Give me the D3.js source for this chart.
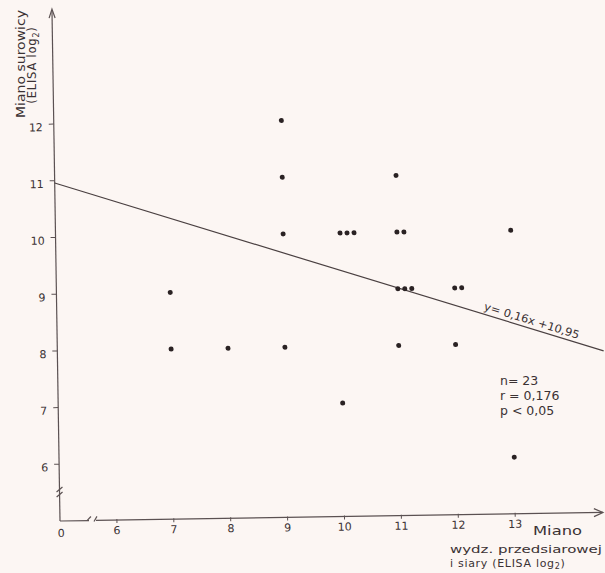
<!DOCTYPE html>
<html>
<head>
<meta charset="utf-8">
<script src="https://cdn.jsdelivr.net/npm/d3@7"></script>
<style>
  html, body { margin: 0; padding: 0; background: #fcf6f3; }
  svg { display: block; font-family: "DejaVu Sans", "Liberation Sans", sans-serif; }
</style>
</head>
<body>
<div id="chart"></div>
<script>
(function(){
  // wartosci
  const xTicks = [6, 7, 8, 9, 10, 11, 12, 13];
  const yTicks = [6, 7, 8, 9, 10, 11, 12];
  const pointX = [7, 7, 8, 9, 9, 9, 9, 10, 10, 11, 11, 11, 11, 12, 12, 13, 13];
  const pointY = [9, 8, 8, 12, 11, 10, 8, 10, 7, 11, 10, 9, 8, 9, 8, 10, 6];
  const pointN = [1, 1, 1, 1, 1, 1, 1, 3, 1, 1, 2, 3, 1, 2, 1, 1, 1];
  const fitX = [5, 14.6];
  const fitY = [10.96, 7.85];
  const fitLabel = "y= 0,16x +10,95";
  const statLines = ["n= 23", "r = 0,176", "p < 0,05"];

  const width = 605, height = 573;
  const ink = "#3b3233";

  const svg = d3.select("#chart").append("svg")
      .attr("width", width)
      .attr("height", height);

  svg.append("rect").attr("width", width).attr("height", height).attr("fill", "#fcf6f3");

  const x = d3.scaleLinear().domain([5, 13]).range([60, 515.2]);
  const y = d3.scaleLinear().domain([5, 12]).range([521, 124]);
  const ox = x(5), oy = y(5);

  // caly rysunek jest lekko obrocony (rysowany recznie)
  const g = svg.append("g").attr("transform", `rotate(-0.9, ${ox}, ${oy})`);

  const axisStyle = sel => sel.attr("stroke", "#5b5152").attr("stroke-width", 1.2).attr("fill", "none");

  // os Y ze strzalka
  g.append("line").attr("x1", ox).attr("y1", oy).attr("x2", ox).attr("y2", 10).call(axisStyle);
  g.append("path").attr("d", `M${ox - 3},${18} L${ox},${9} L${ox + 3},${18}`).call(axisStyle);
  // przerwanie osi Y
  g.append("path").attr("d", `M${ox - 3},${492} L${ox + 3},${487} M${ox - 3},${497} L${ox + 3},${492}`).call(axisStyle);

  // os X z przerwaniem
  g.append("line").attr("x1", ox).attr("y1", oy).attr("x2", 89).attr("y2", oy).call(axisStyle);
  g.append("path").attr("d", `M${87},${oy} L${91},${oy - 4}`).call(axisStyle);
  g.append("path").attr("d", `M${94},${oy + 1} L${97},${oy - 4}`).call(axisStyle);
  g.append("line").attr("x1", 96).attr("y1", oy).attr("x2", 603).attr("y2", oy).call(axisStyle);
  g.append("path").attr("d", `M${594},${oy - 4} L${603},${oy} L${594},${oy + 4}`).call(axisStyle);

  // podzialki
  g.selectAll(".ytick").data(yTicks).enter().append("line")
      .attr("x1", ox - 5).attr("x2", ox)
      .attr("y1", d => y(d)).attr("y2", d => y(d))
      .call(axisStyle).attr("stroke-width", 1);
  g.selectAll(".ylab").data(yTicks).enter().append("text")
      .attr("x", ox - 11).attr("y", d => y(d) + 7)
      .attr("text-anchor", "end")
      .attr("font-size", 11)
      .attr("fill", ink)
      .text(d => d);

  g.selectAll(".xtick").data(xTicks).enter().append("line")
      .attr("x1", d => x(d)).attr("x2", d => x(d))
      .attr("y1", oy - 1).attr("y2", oy + 3)
      .call(axisStyle).attr("stroke-width", 1);
  g.selectAll(".xlab").data(xTicks).enter().append("text")
      .attr("x", d => x(d)).attr("y", oy + 14)
      .attr("text-anchor", "middle")
      .attr("font-size", 11)
      .attr("fill", ink)
      .text(d => d);
  g.append("text").attr("x", ox + 1).attr("y", oy + 16)
      .attr("text-anchor", "middle").attr("font-size", 11).attr("fill", ink).text("0");

  // prosta regresji
  g.append("line")
      .attr("x1", x(fitX[0])).attr("y1", y(fitY[0]))
      .attr("x2", x(fitX[1])).attr("y2", y(fitY[1]))
      .attr("stroke", "#4a4041").attr("stroke-width", 1.2);

  const ang = Math.atan2(y(fitY[1]) - y(fitY[0]), x(fitX[1]) - x(fitX[0])) * 180 / Math.PI;
  const t = 0.865;
  const lx = x(fitX[0] + t * (fitX[1] - fitX[0]));
  const ly = y(fitY[0] + t * (fitY[1] - fitY[0]));
  g.append("text")
      .attr("transform", `translate(${lx},${ly}) rotate(${ang})`)
      .attr("y", -4)
      .attr("text-anchor", "middle")
      .attr("font-size", 11)
      .attr("fill", ink)
      .attr("textLength", 99)
      .attr("lengthAdjust", "spacingAndGlyphs")
      .text(fitLabel);

  // punkty (powtorzenia obok siebie)
  const pts = [];
  pointX.forEach((v, i) => {
    for (let k = 0; k < pointN[i]; k++) pts.push({x: v, y: pointY[i], k: k});
  });
  g.selectAll(".dot").data(pts).enter().append("circle")
      .attr("cx", d => x(d.x) + d.k * 7)
      .attr("cy", d => y(d.y))
      .attr("r", 2.5)
      .attr("fill", "#2a2223");

  // opisy osi
  const yt = svg.append("g").attr("fill", ink);
  yt.append("text")
      .attr("transform", "translate(25,64) rotate(-90)")
      .attr("text-anchor", "middle").attr("font-size", 11.5)
      .attr("textLength", 108).attr("lengthAdjust", "spacingAndGlyphs")
      .text("Miano surowicy");
  const yt2 = yt.append("text")
      .attr("transform", "translate(36,65) rotate(-90)")
      .attr("text-anchor", "middle").attr("font-size", 11.5)
      .attr("letter-spacing", 0.8);
  yt2.append("tspan").text("(ELISA log");
  yt2.append("tspan").attr("font-size", 8).attr("dy", 3).text("2");
  yt2.append("tspan").attr("dy", -3).text(")");

  const xt = svg.append("g").attr("fill", ink).attr("font-size", 11);
  xt.append("text").attr("x", 533).attr("y", 535).attr("font-size", 12)
      .attr("textLength", 49).attr("lengthAdjust", "spacingAndGlyphs").text("Miano");
  xt.append("text").attr("x", 450).attr("y", 553)
      .attr("textLength", 152).attr("lengthAdjust", "spacingAndGlyphs").text("wydz. przedsiarowej");
  const xt3 = xt.append("text").attr("x", 450).attr("y", 567).attr("letter-spacing", 0.7);
  xt3.append("tspan").text("i siary (ELISA log");
  xt3.append("tspan").attr("font-size", 8).attr("dy", 2).text("2");
  xt3.append("tspan").attr("dy", -2).text(")");

  // statystyki
  svg.append("g").attr("fill", ink).attr("font-size", 12.5)
    .selectAll("text").data(statLines).enter().append("text")
      .attr("x", 500)
      .attr("y", (d, i) => 385 + i * 15)
      .text(d => d);
})();
</script>
</body>
</html>
